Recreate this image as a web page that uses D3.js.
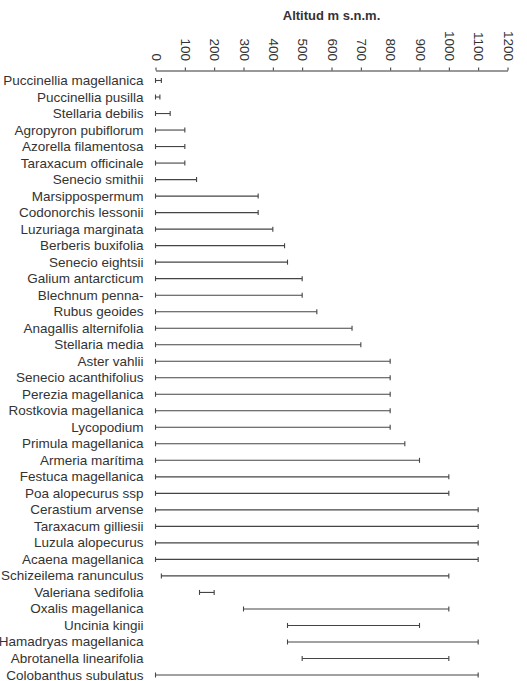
<!DOCTYPE html>
<html>
<head>
<meta charset="utf-8">
<script src="https://cdn.jsdelivr.net/npm/d3@7"></script>
<style>
  html, body { margin: 0; padding: 0; background: #fff; }
  svg { display: block; }
</style>
</head>
<body>
<svg id="chart" width="527" height="681"></svg>
<script>
const species = [
  "Puccinellia magellanica", "Puccinellia pusilla", "Stellaria debilis",
  "Agropyron pubiflorum", "Azorella filamentosa", "Taraxacum officinale",
  "Senecio smithii", "Marsippospermum", "Codonorchis lessonii",
  "Luzuriaga marginata", "Berberis buxifolia", "Senecio eightsii",
  "Galium antarcticum", "Blechnum penna-", "Rubus geoides",
  "Anagallis alternifolia", "Stellaria media", "Aster vahlii",
  "Senecio acanthifolius", "Perezia magellanica", "Rostkovia magellanica",
  "Lycopodium", "Primula magellanica", "Armeria marítima",
  "Festuca magellanica", "Poa alopecurus ssp", "Cerastium arvense",
  "Taraxacum gilliesii", "Luzula alopecurus", "Acaena magellanica",
  "Schizeilema ranunculus", "Valeriana sedifolia", "Oxalis magellanica",
  "Uncinia kingii", "Hamadryas magellanica", "Abrotanella linearifolia",
  "Colobanthus subulatus"
];
const minAlt = [0, 0, 0, 0, 0, 0, 0, 0, 0, 0, 0, 0, 0, 0, 0, 0, 0, 0, 0, 0, 0,
  0, 0, 0, 0, 0, 0, 0, 0, 0, 20, 150, 300, 450, 450, 500, 0];
const maxAlt = [20, 15, 50, 100, 100, 100, 140, 350, 350, 400, 440, 450, 500, 500, 550,
  670, 700, 800, 800, 800, 800, 800, 850, 900, 1000, 1000, 1100, 1100, 1100, 1100,
  1000, 200, 1000, 900, 1100, 1000, 1100];
const tickValues = [0, 100, 200, 300, 400, 500, 600, 700, 800, 900, 1000, 1100, 1200];
const axisTitle = "Altitud m s.n.m.";

const data = species.map((s, i) => ({ name: s, lo: minAlt[i], hi: maxAlt[i] }));

const svg = d3.select("#chart");
const font = "'Liberation Sans', Arial, Helvetica, sans-serif";
const ink = "#333";

const x = d3.scaleLinear().domain([0, 1200]).range([155.5, 507.5]);
const y = d3.scalePoint().domain(species).range([80.5, 675]);

// Title
svg.append("text")
  .attr("x", (x(0) + x(1200)) / 2)
  .attr("y", 19.5)
  .attr("text-anchor", "middle")
  .attr("font-family", font)
  .attr("font-size", 13)
  .attr("font-weight", "bold")
  .attr("fill", ink)
  .text(axisTitle);

// Top axis
const axisY = 70.5;
const axis = d3.axisTop(x).tickValues(tickValues).tickSize(3).tickSizeOuter(0).tickFormat(d3.format("d"));
const ag = svg.append("g").attr("transform", `translate(0,${axisY})`).call(axis);
ag.select(".domain").attr("stroke", ink);
ag.selectAll(".tick line").attr("stroke", ink);
ag.selectAll(".tick text")
  .attr("font-family", font)
  .attr("font-size", 13.5)
  .attr("fill", ink)
  .attr("text-anchor", "end")
  .attr("dominant-baseline", "central")
  .attr("dy", null)
  .attr("transform", "translate(0,-9.5) rotate(90)")
  .attr("x", 0)
  .attr("y", 0);

// Labels
svg.append("g").selectAll("text").data(data).join("text")
  .attr("x", 143.5)
  .attr("y", d => y(d.name))
  .attr("dominant-baseline", "central")
  .attr("text-anchor", "end")
  .attr("font-family", font)
  .attr("font-size", 13.5)
  .attr("fill", ink)
  .text(d => d.name);

// Range bars
const cap = 2.5;
const bars = svg.append("g").attr("stroke", "#444").attr("stroke-width", 1.1);
bars.selectAll("line.range").data(data).join("line")
  .attr("class", "range")
  .attr("x1", d => x(d.lo)).attr("x2", d => x(d.hi))
  .attr("y1", d => y(d.name)).attr("y2", d => y(d.name));
bars.selectAll("line.lo").data(data).join("line")
  .attr("class", "lo")
  .attr("x1", d => x(d.lo)).attr("x2", d => x(d.lo))
  .attr("y1", d => y(d.name) - cap).attr("y2", d => y(d.name) + cap);
bars.selectAll("line.hi").data(data).join("line")
  .attr("class", "hi")
  .attr("x1", d => x(d.hi)).attr("x2", d => x(d.hi))
  .attr("y1", d => y(d.name) - cap).attr("y2", d => y(d.name) + cap);
</script>
</body>
</html>
